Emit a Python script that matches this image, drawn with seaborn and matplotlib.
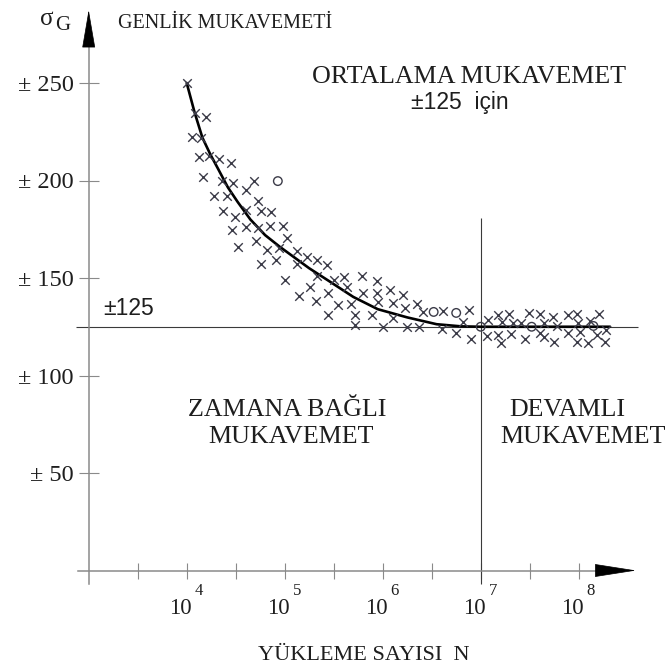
import matplotlib
matplotlib.use("Agg")
import numpy as np
import pandas as pd
import seaborn as sns
import matplotlib.pyplot as plt

# Fatigue test results: exponent of the load cycle count (log10 N) and stress amplitude
cross_logn = [4.00, 4.08, 4.20, 4.05, 4.15, 4.13, 4.23, 4.33, 4.45, 4.17, 4.36, 4.47, 4.60, 4.69,
              4.28, 4.41, 4.73, 4.37, 4.49, 4.60, 4.76, 4.86, 4.46, 4.60, 4.73, 4.85, 4.98, 5.02,
              4.52, 4.71, 4.82, 4.94, 5.13, 4.91, 5.23, 5.33, 4.76, 5.13, 5.43, 5.00, 5.33, 5.50,
              5.61, 5.79, 5.94, 5.26, 5.44, 5.64, 5.80, 5.94, 6.07, 6.21, 5.15, 5.32, 5.54, 5.68,
              5.95, 6.10, 6.23, 6.35, 5.44, 5.72, 5.89, 6.11, 5.72, 6.00, 6.25, 6.37, 6.41, 6.62,
              6.88, 6.82, 6.60, 6.75, 6.90, 7.07, 7.06, 7.18, 7.22, 7.29, 7.33, 7.41, 7.49, 7.60,
              7.65, 7.74, 7.78, 7.89, 7.98, 7.99, 8.12, 8.21, 8.28, 7.18, 7.21, 7.31, 7.45, 7.60,
              7.65, 7.75, 7.89, 7.98, 8.01, 8.09, 8.19, 8.27]
cross_amp = [250.0, 234.6, 232.6, 222.3, 221.8, 212.1, 212.6, 211.0, 209.0, 201.8, 199.7, 198.7, 195.1, 199.7,
             192.1, 192.1, 189.5, 184.4, 181.3, 184.9, 184.4, 183.8, 174.6, 176.2, 175.6, 176.7, 176.7, 170.5,
             165.9, 169.0, 164.4, 165.4, 163.8, 159.2, 160.8, 159.2, 157.2, 157.2, 156.7, 149.0, 151.0, 149.0,
             150.5, 151.0, 148.5, 145.4, 142.3, 145.4, 142.3, 142.3, 143.8, 141.3, 140.8, 138.2, 136.2, 136.7,
             137.7, 137.2, 134.6, 136.7, 131.0, 131.0, 131.0, 129.5, 125.9, 124.9, 124.9, 124.9, 132.6, 133.1,
             133.6, 127.4, 123.8, 121.8, 118.7, 128.5, 120.3, 131.0, 127.4, 131.5, 126.9, 126.9, 132.1, 131.5,
             126.9, 130.0, 125.4, 131.0, 131.5, 126.9, 127.9, 131.5, 123.3, 120.8, 116.7, 121.3, 118.7, 121.8,
             119.7, 117.2, 121.8, 117.2, 122.3, 116.7, 120.8, 117.2]

circle_logn = [4.93, 6.52, 6.75, 7.00, 7.52, 8.15]
circle_amp = [199.7, 132.6, 132.1, 125.0, 125.0, 125.4]

# Mean S-N (Woehler) curve
curve_logn = [4.00, 4.08, 4.16, 4.24, 4.32, 4.42, 4.52, 4.65, 4.80, 4.95, 5.10, 5.25, 5.45,
              5.70, 5.95, 6.25, 6.55, 6.80, 7.00, 8.32]
curve_amp = [250.0, 235.0, 222.0, 213.5, 206.0, 196.5, 189.0, 180.0, 172.0, 166.0, 160.5, 155.0, 148.5,
             140.3, 134.0, 129.8, 126.3, 125.2, 125.0, 125.0]

endurance_limit = 125
knee_exponent = 7

y_ticks = [50, 100, 150, 200, 250]
y_tick_labels = ["± 50", "± 100", "± 150", "± 200", "± 250"]
x_tick_exponents = [3.5, 4, 4.5, 5, 5.5, 6, 6.5, 7, 7.5, 8]
x_label_exponents = [4, 5, 6, 7, 8]

SERIF = ["Liberation Serif", "DejaVu Serif"]
SANS = ["Liberation Sans", "DejaVu Sans"]
AXIS_GRAY = "#8a8a8a"
INK = "#1e1e1e"

sns.set_theme(style="white")
plt.rcParams["font.family"] = SERIF

W, H = 665, 671
fig = plt.figure(figsize=(W / 100, H / 100), dpi=100)
ax = fig.add_axes([0, 0, 1, 1])

# one decade spans 98 px, 50 stress units span 97.5 px
x0_px, dec_px = 88.7, 98.0
y0_px, unit_px = 570.5, 1.95
lx_min = 3 - x0_px / dec_px
lx_max = 3 + (W - x0_px) / dec_px
ax.set_xscale("log")
ax.set_xlim(10 ** lx_min, 10 ** lx_max)
ax.set_ylim((y0_px - H) / unit_px, y0_px / unit_px)
ax.set_facecolor("white")


def lx(px):
    return 3 + (px - x0_px) / dec_px


def amp(py):
    return (y0_px - py) / unit_px


def fig_text(px, py, s, **kw):
    fig.text(px / W, 1 - py / H, s, **kw)


# reference lines: endurance limit and knee point
ax.hlines(endurance_limit, 10 ** lx(76), 10 ** lx(638), color="#3a3a3a", lw=0.8, zorder=2)
ax.vlines(10 ** knee_exponent, amp(584), amp(218), color="#3a3a3a", lw=0.8, zorder=2)

# mean curve and test points
sns.lineplot(x=10 ** np.array(curve_logn), y=curve_amp, ax=ax, color="black", lw=1.9,
             sort=False, zorder=4)
sns.scatterplot(x=10 ** np.array(cross_logn), y=cross_amp, ax=ax, marker="x", s=38,
                color="#3b3b48", linewidth=1.0, zorder=5)
sns.scatterplot(x=10 ** np.array(circle_logn), y=circle_amp, ax=ax, marker="o", s=38,
                facecolor="none", edgecolor="#3b3b48", linewidth=1.0, zorder=5)

# axes drawn through the origin with arrow heads
for side in ("top", "right"):
    ax.spines[side].set_visible(False)
ax.spines["left"].set_position(("data", 10 ** 3))
ax.spines["bottom"].set_position(("data", 0))
ax.spines["left"].set_bounds(amp(584), amp(38))
ax.spines["bottom"].set_bounds(10 ** lx(78), 10 ** lx(604))
for side in ("left", "bottom"):
    ax.spines[side].set_color(AXIS_GRAY)
    ax.spines[side].set_linewidth(1.1)

ax.annotate("", xy=(10 ** 3, amp(10)), xytext=(10 ** 3, amp(40)),
            arrowprops=dict(arrowstyle="-|>,head_length=2.1,head_width=0.36", color="black",
                            lw=0.5, shrinkA=0, shrinkB=0), annotation_clip=False)
ax.annotate("", xy=(10 ** lx(636), 0), xytext=(10 ** lx(602), 0),
            arrowprops=dict(arrowstyle="-|>,head_length=2.3,head_width=0.36", color="black",
                            lw=0.5, shrinkA=0, shrinkB=0), annotation_clip=False)

ax.minorticks_off()
ax.set_xticks([10 ** e for e in x_tick_exponents])
ax.set_xticklabels([])
ax.set_yticks(y_ticks)
ax.set_yticklabels(y_tick_labels, fontsize=17.5, color=INK, family=SERIF)
ax.tick_params(axis="x", direction="inout", length=11.5, width=0.8, color=AXIS_GRAY, bottom=True)
ax.tick_params(axis="y", direction="inout", length=14, width=0.8, color=AXIS_GRAY, left=True, pad=4)
ax.grid(False)

# decade labels 10^n
for e in x_label_exponents:
    ax.text(10 ** (e + 0.05), amp(609), "10", ha="right", va="center", fontsize=16.5,
            color=INK, family=SERIF)
    ax.text(10 ** (e + 0.08), amp(591), str(e), ha="left", va="center", fontsize=12,
            color=INK, family=SERIF)

# titles and region annotations
fig_text(47, 19, "σ", ha="center", va="center", fontsize=18, color=INK, family=SERIF)
fig_text(63, 26, "G", ha="center", va="center", fontsize=15, color=INK, family=SERIF)
fig_text(118, 23, "GENLİK MUKAVEMETİ", ha="left", va="center", fontsize=14.5, color=INK, family=SERIF)
fig_text(469, 77, "ORTALAMA MUKAVEMET", ha="center", va="center", fontsize=18.7, color=INK, family=SERIF)
fig_text(460, 102, "±125  için", ha="center", va="center", fontsize=16.5, color=INK, family=SANS)
fig_text(129, 309, "±125", ha="center", va="center", fontsize=16.5, color=INK, family=SANS)
fig_text(287, 410, "ZAMANA BAĞLI", ha="center", va="center", fontsize=18.7, color=INK, family=SERIF)
fig_text(291, 437, "MUKAVEMET", ha="center", va="center", fontsize=18.7, color=INK, family=SERIF)
fig_text(567, 410, "DEVAMLI", ha="center", va="center", fontsize=18.7, color=INK, family=SERIF)
fig_text(583, 437, "MUKAVEMET", ha="center", va="center", fontsize=18.7, color=INK, family=SERIF)
fig_text(364, 656, "YÜKLEME SAYISI  N", ha="center", va="center", fontsize=16, color=INK, family=SERIF)

fig.savefig("out.png", dpi=100, facecolor="white")
